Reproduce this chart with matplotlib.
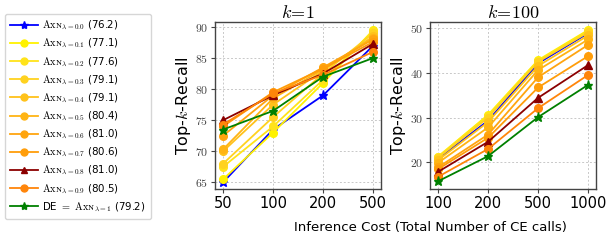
import matplotlib
matplotlib.use("Agg")
import matplotlib.pyplot as plt
from matplotlib.lines import Line2D

plt.rcParams["mathtext.fontset"] = "cm"
plt.rcParams["font.family"] = ["DejaVu Sans"]

# x categories for each panel
cost_k1 = ["50", "100", "200", "500"]
cost_k100 = ["100", "200", "500", "1000"]

lambdas = ["0.0", "0.1", "0.2", "0.3", "0.4", "0.5", "0.6", "0.7", "0.8", "0.9", "1"]
means = ["76.2", "77.1", "77.6", "79.1", "79.1", "80.4", "81.0", "80.6", "81.0", "80.5", "79.2"]

# Top-k-Recall, k=1 (rows follow lambdas)
recall_k1 = [
    [65.0, 73.5, 79.0, 87.0],
    [65.5, 73.0, 81.0, 89.5],
    [67.5, 74.0, 81.5, 89.3],
    [68.0, 75.5, 82.5, 89.0],
    [70.0, 77.5, 83.0, 88.5],
    [70.3, 78.5, 83.2, 88.2],
    [72.5, 79.0, 83.5, 88.0],
    [74.0, 79.5, 83.3, 87.6],
    [75.0, 79.0, 82.5, 87.3],
    [74.3, 79.3, 82.3, 86.0],
    [73.5, 76.5, 82.0, 85.0],
]

# Top-k-Recall, k=100
recall_k100 = [
    [20.8, 29.3, 42.1, 48.8],
    [21.3, 30.6, 42.8, 49.5],
    [21.2, 30.4, 42.6, 49.3],
    [21.0, 30.0, 42.4, 49.0],
    [20.5, 29.0, 41.5, 48.3],
    [19.9, 27.8, 40.6, 47.4],
    [18.9, 26.2, 39.0, 46.2],
    [18.5, 25.5, 36.7, 43.7],
    [17.9, 24.6, 34.4, 41.7],
    [16.8, 23.0, 32.1, 39.5],
    [15.8, 21.4, 30.1, 37.3],
]

colors = ["blue", "#fff200", "#ffe31a", "#ffd21f", "#ffc21a", "#ffb414",
          "#ffa50f", "#ff9d0a", "#8b0000", "#ff850a", "green"]
markers = ["*", "o", "o", "o", "o", "o", "o", "o", "^", "o", "*"]

fig = plt.figure(figsize=(6.09, 2.41), dpi=100)
ax1 = fig.add_axes([0.353, 0.216, 0.273, 0.693])
ax2 = fig.add_axes([0.706, 0.216, 0.273, 0.693])


def style_axis(ax, cats, ylim, yticks, title):
    ax.set_xlim(-0.16, len(cats) - 1 + 0.16)
    ax.set_ylim(*ylim)
    ax.set_xticks(range(len(cats)))
    ax.set_xticklabels(cats, fontsize=10.5)
    ax.set_yticks(yticks)
    ax.set_yticklabels([f"${t}$" for t in yticks], fontsize=8.5, color="#444444")
    ax.grid(True, color="#c8c8c8", ls=(0, (2, 2)), lw=0.7)
    ax.set_axisbelow(True)
    for sp in ax.spines.values():
        sp.set_color("#444444")
        sp.set_linewidth(1.0)
    ax.tick_params(length=3, width=0.8, pad=2, color="#444444")
    ax.set_ylabel(r"Top-$k$-Recall", fontsize=11.5, labelpad=1)
    ax.set_title(title, fontsize=13, pad=3)


labels = []
for lam, m in zip(lambdas, means):
    if lam == "1":
        labels.append(r"DE $=$ $\mathrm{Axɴ}_{\lambda=1}$ (" + m + ")")
    else:
        labels.append(r"$\mathrm{Axɴ}_{\lambda=" + lam + "}$ (" + m + ")")

xs1 = range(len(cost_k1))
xs2 = range(len(cost_k100))
for i in range(len(lambdas)):
    ms = 6.5 if markers[i] == "*" else 5.5
    ax1.plot(xs1, recall_k1[i], color=colors[i], marker=markers[i], ms=ms, lw=1.3)
    ax2.plot(xs2, recall_k100[i], color=colors[i], marker=markers[i], ms=ms, lw=1.3)

style_axis(ax1, cost_k1, (63.95, 90.8), [65, 70, 75, 80, 85, 90], r"$k\!=\!1$")
style_axis(ax2, cost_k100, (14.1, 51.3), [20, 30, 40, 50], r"$k\!=\!100$")

fig.text(0.706, 0.055, "Inference Cost (Total Number of CE calls)", ha="center", va="center", fontsize=9.5)

handles = [Line2D([], [], color=c, marker=mk, ms=(6 if mk == "*" else 5), lw=1.3)
           for c, mk in zip(colors, markers)]
fig.legend(handles, labels, loc="upper left", bbox_to_anchor=(0.008, 0.942),
           borderaxespad=0, fontsize=7.4, frameon=True, handlelength=2.7,
           labelspacing=0.48, borderpad=0.5, handletextpad=0.45,
           edgecolor="#cccccc", fancybox=True)

fig.savefig("out.png", dpi=100)
